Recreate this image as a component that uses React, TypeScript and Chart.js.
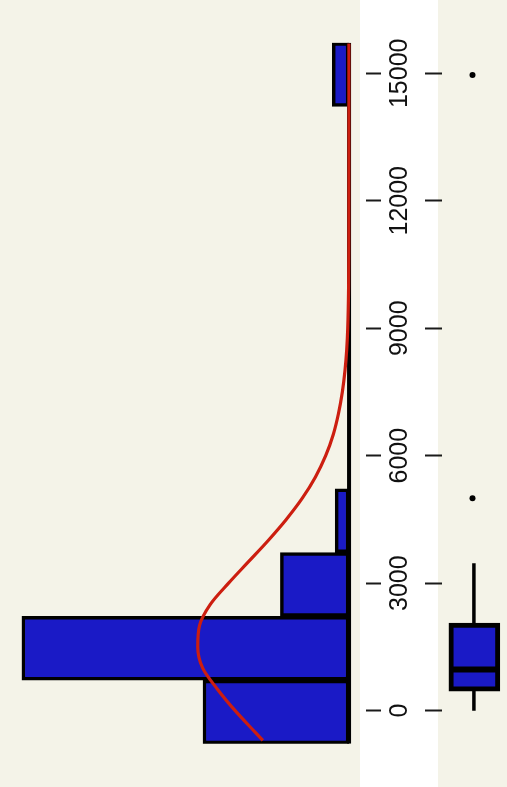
import React, { useEffect, useRef } from 'react';
import { Chart, registerables } from 'chart.js';

Chart.register(...registerables);

// ---- data ----
const Y_MIN = -780;
const Y_MAX = 15720;
const TICKS = [0, 3000, 6000, 9000, 12000, 15000];

// histogram bins (width 1500, starting at -780)
const BIN_CENTERS = [-30, 1470, 2970, 4470, 5970, 7470, 8970, 10470, 11970, 13470, 14970];
const COUNTS = [10, 22.4, 4.7, 0.95, 0, 0, 0, 0, 0, 0, 1.15];

// density curve (same units as counts)
const DENS_AT = [-700, -500, 0, 500, 1000, 1500, 2000, 2500, 3000, 3500, 4000, 4500, 5000, 5500, 6000, 6500, 7000, 7500, 8000, 8500, 9000, 10000, 11000, 13000, 15700];
const DENS = [5.9, 6.45, 7.8, 9.0, 10.02, 10.36, 10.24, 9.5, 8.25, 6.9, 5.55, 4.3, 3.2, 2.3, 1.6, 1.08, 0.72, 0.46, 0.28, 0.16, 0.09, 0.03, 0.015, 0.01, 0.01];

// boxplot
const WHISKER_LO = 0;
const Q1 = 460;
const MEDIAN = 970;
const Q3 = 2060;
const WHISKER_HI = 3470;
const OUTLIERS = [5000, 14960];

// ---- style ----
const BLUE = '#1a1ac6';
const RED = '#cc1e10';
const BEIGE = '#f4f3e8';
const FONT = '"Liberation Sans", Arial, Helvetica, sans-serif';
const PAD = { top: 42.7, bottom: 43.2, left: 0, right: 0 };

const setTicks = (s: any) => {
  s.ticks = TICKS.map((v) => ({ value: v }));
};

export default function App() {
  const histRef = useRef<HTMLCanvasElement>(null);
  const boxRef = useRef<HTMLCanvasElement>(null);

  useEffect(() => {
    const hist = new Chart(histRef.current as HTMLCanvasElement, {
      type: 'bar',
      data: {
        datasets: [
          {
            type: 'line',
            label: 'density',
            data: DENS_AT.map((y, i) => ({ x: DENS[i], y })),
            borderColor: RED,
            borderWidth: 3.2,
            pointRadius: 0,
            cubicInterpolationMode: 'monotone',
            fill: false,
            order: 0,
          } as any,
          {
            type: 'line',
            label: 'baseline',
            data: [
              { x: 0, y: Y_MIN },
              { x: 0, y: Y_MAX },
            ],
            borderColor: '#000',
            borderWidth: 4,
            pointRadius: 0,
            fill: false,
            order: 1,
          } as any,
          {
            type: 'bar',
            label: 'count',
            data: BIN_CENTERS.map((c, i) => ({ x: COUNTS[i], y: c })),
            backgroundColor: BLUE,
            borderColor: '#000',
            borderWidth: 3.5,
            borderSkipped: false,
            barPercentage: 1,
            categoryPercentage: 1,
            order: 2,
          } as any,
        ],
      },
      options: {
        indexAxis: 'y',
        responsive: false,
        animation: false,
        devicePixelRatio: 1,
        layout: { padding: PAD },
        plugins: { legend: { display: false }, tooltip: { enabled: false } },
        scales: {
          x: { type: 'linear', reverse: true, min: -1.16, max: 23.9, display: false, offset: false },
          y: {
            type: 'linear',
            position: 'right',
            min: Y_MIN,
            max: Y_MAX,
            offset: false,
            afterBuildTicks: setTicks,
            afterFit: (s: any) => {
              s.width = 74;
            },
            grid: {
              display: true,
              offset: false,
              drawOnChartArea: false,
              drawTicks: true,
              tickLength: 15,
              tickWidth: 2,
              tickColor: '#1a1a1a',
            },
            border: { display: false },
            ticks: {
              minRotation: 90,
              maxRotation: 90,
              crossAlign: 'center',
              padding: -16,
              color: '#111',
              font: { family: FONT, size: 25 },
              callback: (v: any) => String(v),
            },
          },
        },
      } as any,
    });

    const box = new Chart(boxRef.current as HTMLCanvasElement, {
      type: 'bar',
      data: {
        datasets: [
          {
            type: 'scatter',
            label: 'outliers',
            data: OUTLIERS.map((v) => ({ x: 32.5, y: v })),
            pointRadius: 3,
            backgroundColor: '#000',
            borderWidth: 0,
            order: 0,
          } as any,
          {
            type: 'line',
            label: 'median',
            data: [
              { x: 9, y: MEDIAN },
              { x: 60, y: MEDIAN },
            ],
            borderColor: '#000',
            borderWidth: 6,
            pointRadius: 0,
            fill: false,
            order: 1,
          } as any,
          {
            type: 'bar',
            label: 'box',
            data: [{ x: 34.5, y: [Q1, Q3] }],
            backgroundColor: BLUE,
            borderColor: '#000',
            borderWidth: 5,
            borderSkipped: false,
            barThickness: 51,
            grouped: false,
            order: 2,
          } as any,
          {
            type: 'line',
            label: 'whisker low',
            data: [
              { x: 34, y: WHISKER_LO },
              { x: 34, y: Q1 },
            ],
            borderColor: '#000',
            borderWidth: 3.5,
            pointRadius: 0,
            fill: false,
            order: 3,
          } as any,
          {
            type: 'line',
            label: 'whisker high',
            data: [
              { x: 34, y: Q3 },
              { x: 34, y: WHISKER_HI },
            ],
            borderColor: '#000',
            borderWidth: 3.5,
            pointRadius: 0,
            fill: false,
            order: 3,
          } as any,
        ],
      },
      options: {
        responsive: false,
        animation: false,
        devicePixelRatio: 1,
        layout: { padding: PAD },
        plugins: { legend: { display: false }, tooltip: { enabled: false } },
        scales: {
          x: { type: 'linear', min: 0, max: 65, display: false, offset: false },
          y: {
            type: 'linear',
            position: 'left',
            min: Y_MIN,
            max: Y_MAX,
            offset: false,
            afterBuildTicks: setTicks,
            afterFit: (s: any) => {
              s.width = 42;
            },
            grid: {
              display: true,
              offset: false,
              drawOnChartArea: false,
              drawTicks: true,
              tickLength: 17,
              tickWidth: 2,
              tickColor: '#1a1a1a',
            },
            border: { display: false },
            ticks: { display: false },
          },
        },
      } as any,
    });

    return () => {
      hist.destroy();
      box.destroy();
    };
  }, []);

  return (
    <div
      style={{
        position: 'absolute',
        left: 0,
        top: 0,
        width: 507,
        height: 787,
        overflow: 'hidden',
        background: BEIGE,
      }}
    >
      <div style={{ position: 'absolute', left: 360, top: 0, width: 78, height: 787, background: '#ffffff' }} />
      <canvas
        ref={histRef}
        width={440}
        height={787}
        style={{ position: 'absolute', left: 0, top: 0, width: 440, height: 787 }}
      />
      <canvas
        ref={boxRef}
        width={107}
        height={787}
        style={{ position: 'absolute', left: 400, top: 0, width: 107, height: 787 }}
      />
    </div>
  );
}
